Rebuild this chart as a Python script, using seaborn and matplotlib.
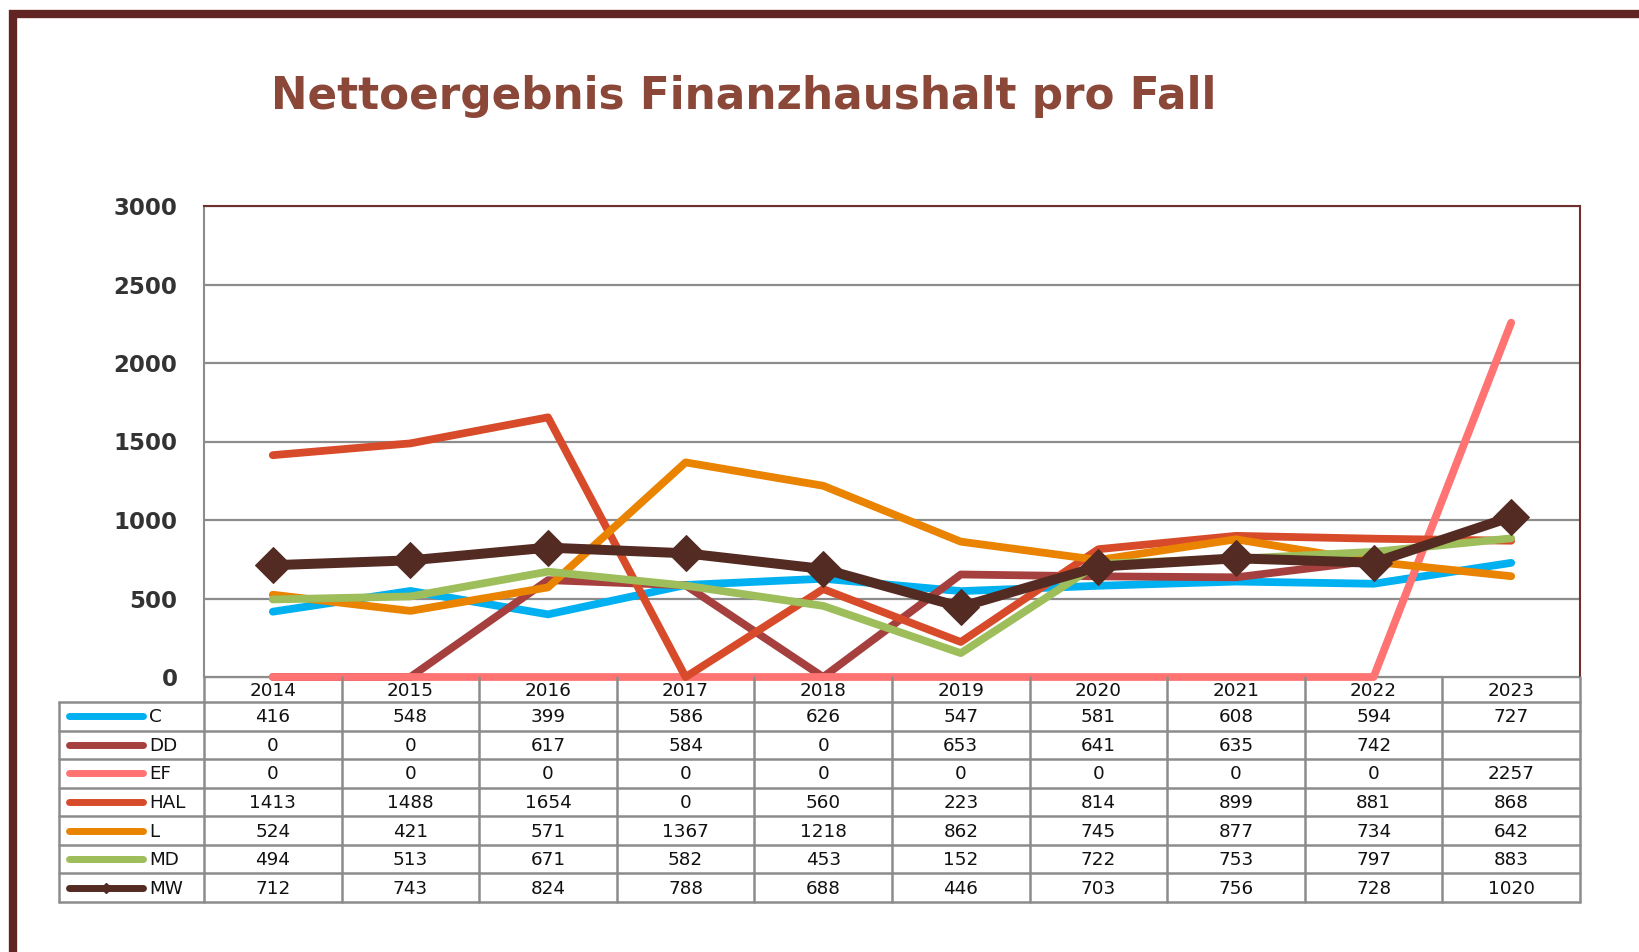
import numpy as np
import pandas as pd
import matplotlib
matplotlib.use("Agg")
import matplotlib.pyplot as plt
from matplotlib.patches import Rectangle
import seaborn as sns

years = ["2014", "2015", "2016", "2017", "2018", "2019", "2020", "2021", "2022", "2023"]
series_names = ["C", "DD", "EF", "HAL", "L", "MD", "MW"]
c_vals = [416, 548, 399, 586, 626, 547, 581, 608, 594, 727]
dd_vals = [0, 0, 617, 584, 0, 653, 641, 635, 742, np.nan]
ef_vals = [0, 0, 0, 0, 0, 0, 0, 0, 0, 2257]
hal_vals = [1413, 1488, 1654, 0, 560, 223, 814, 899, 881, 868]
l_vals = [524, 421, 571, 1367, 1218, 862, 745, 877, 734, 642]
md_vals = [494, 513, 671, 582, 453, 152, 722, 753, 797, 883]
mw_vals = [712, 743, 824, 788, 688, 446, 703, 756, 728, 1020]
y_ticks = [0, 500, 1000, 1500, 2000, 2500, 3000]

colors = ["#00B0F0", "#A5403F", "#FF7373", "#D84B2A", "#E98300", "#9DBE5A", "#542B22"]
all_vals = [c_vals, dd_vals, ef_vals, hal_vals, l_vals, md_vals, mw_vals]

sns.set_style("white")
plt.rcParams["font.family"] = ["DejaVu Sans", "Liberation Sans"]

W, H = 1639, 952
fig = plt.figure(figsize=(W / 100, H / 100), dpi=100)

def fx(px):
    return px / W

def fy(py):
    return 1 - py / H

# outer frame
fig.patches.append(Rectangle((fx(13), fy(H + 20)), fx(W + 40), (H + 6) / H, transform=fig.transFigure,
                             fill=False, edgecolor="#632523", linewidth=6))

ax_l, ax_r, ax_t, ax_b = 204, 1580, 206, 677
ax = fig.add_axes([fx(ax_l), fy(ax_b), fx(ax_r - ax_l), (ax_b - ax_t) / H])
xs = np.arange(len(years))

for name, vals, col in zip(series_names, all_vals, colors):
    if name == "MW":
        sns.lineplot(x=xs, y=vals, color=col, linewidth=7.2, marker="D", markersize=18,
                     markeredgecolor=col, ax=ax, clip_on=False, zorder=5)
    else:
        sns.lineplot(x=xs, y=vals, color=col, linewidth=5.6, ax=ax, clip_on=False,
                     solid_capstyle="round", zorder=3)

ax.set_xlim(-0.5, len(years) - 0.5)
ax.set_ylim(0, 3000)
ax.set_yticks(y_ticks)
ax.set_yticklabels([str(v) for v in y_ticks], fontsize=16.5, fontweight="bold", color="#333333")
ax.set_xticks([])
ax.tick_params(axis="y", length=0, pad=19)
ax.yaxis.grid(True, color="#8C8C8C", linewidth=1.6)
ax.set_axisbelow(True)
for s in ["top", "right"]:
    ax.spines[s].set_color("#6E2F2F")
    ax.spines[s].set_linewidth(1.5)
ax.spines["left"].set_color("#8C8C8C")
ax.spines["left"].set_linewidth(1.5)
ax.spines["bottom"].set_color("#8C8C8C")
ax.spines["bottom"].set_linewidth(1)

fig.text(fx(744), fy(97), "Nettoergebnis Finanzhaushalt pro Fall", fontsize=31.5, fontweight="bold",
         color="#8B4838", ha="center", va="center")

# data table below the axes
tb_b = 902
tax = fig.add_axes([fx(ax_l), fy(tb_b), fx(ax_r - ax_l), (tb_b - ax_b) / H])
tax.set_xlim(-0.5, len(years) - 0.5)
tax.set_ylim(tb_b - ax_b, 0)
tax.axis("off")
hdr = 25
rh = (tb_b - ax_b - hdr) / len(series_names)
lab_left = -0.5 - 1.055
gc = "#8C8C8C"
glw = 1.8
fs = 13.2

# header row
for i, yr in enumerate(years):
    tax.text(i, hdr / 2 + 2, yr, ha="center", va="center", fontsize=fs, color="#111111")
for i in range(len(years) + 1):
    tax.plot([i - 0.5, i - 0.5], [0, tb_b - ax_b], color=gc, lw=glw, clip_on=False)
tax.plot([lab_left, lab_left], [hdr, tb_b - ax_b], color=gc, lw=glw, clip_on=False)
for r in range(len(series_names) + 1):
    y = hdr + r * rh
    tax.plot([lab_left, len(years) - 0.5], [y, y], color=gc, lw=glw, clip_on=False)

sw0 = -0.5 + (69 - ax_l) / 137.6
sw1 = -0.5 + (143 - ax_l) / 137.6
for r, (name, vals, col) in enumerate(zip(series_names, all_vals, colors)):
    yc = hdr + (r + 0.5) * rh
    tax.plot([sw0, sw1], [yc, yc], color=col, lw=5, solid_capstyle="round", clip_on=False)
    if name == "MW":
        tax.plot([(sw0 + sw1) / 2], [yc], marker="D", markersize=5, color=col, clip_on=False)
    tax.text(sw1 + 0.045, yc + 1, name, ha="left", va="center", fontsize=fs, color="#111111")
    for i, v in enumerate(vals):
        if not np.isnan(v):
            tax.text(i, yc + 1, str(int(v)), ha="center", va="center", fontsize=fs, color="#111111")

fig.savefig("out.png", dpi=100)
